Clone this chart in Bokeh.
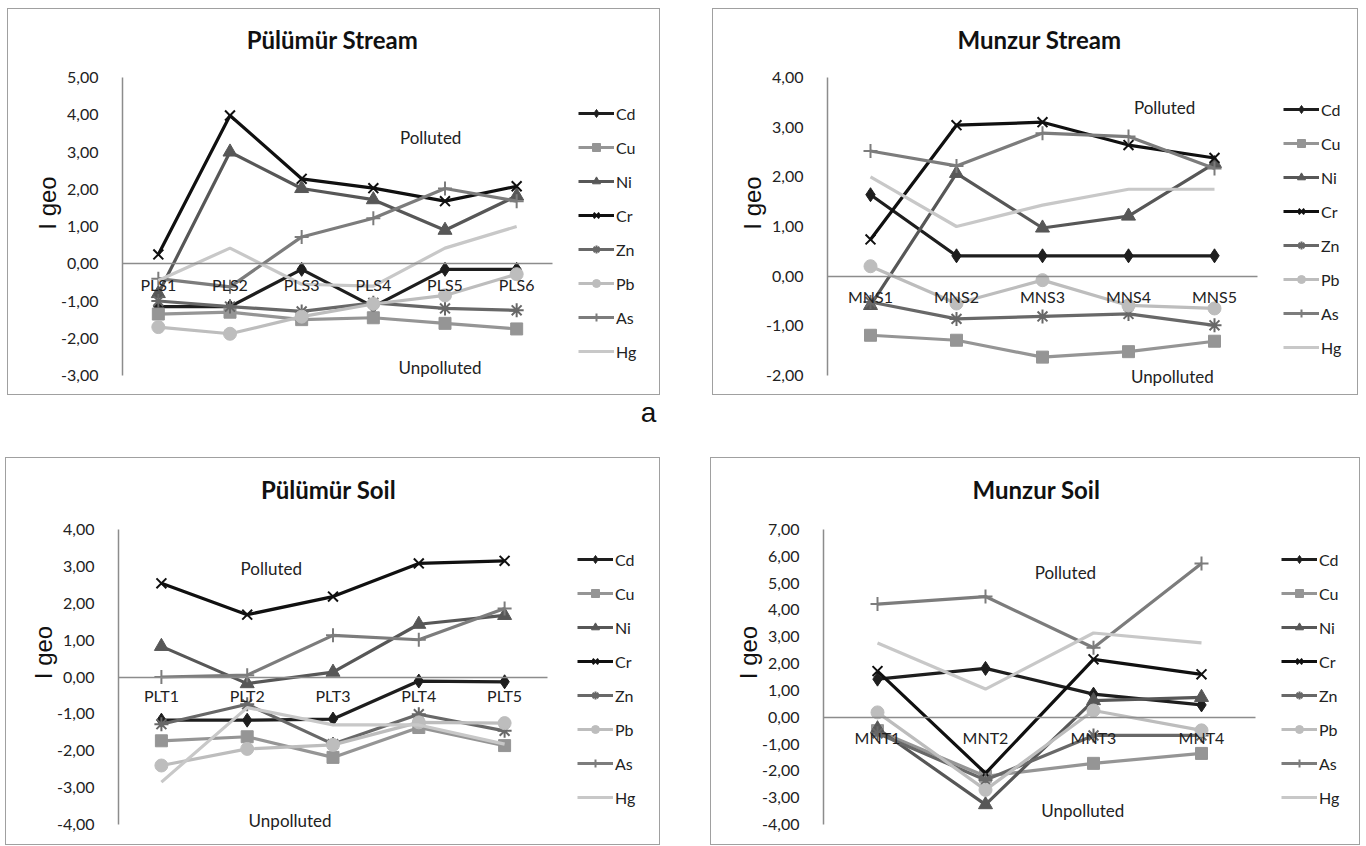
from bokeh.plotting import figure
from bokeh.models import (Range1d, FixedTicker, Legend, LegendItem, Label, Spacer)
from bokeh.layouts import column, row
from bokeh.embed import file_html
from bokeh.resources import INLINE

# ---------------- data ----------------
metals = ["Cd", "Cu", "Ni", "Cr", "Zn", "Pb", "As", "Hg"]

pls_sites = ["PLS1", "PLS2", "PLS3", "PLS4", "PLS5", "PLS6"]
pls_cd = [-1.15, -1.15, -0.15, -1.15, -0.15, -0.15]
pls_cu = [-1.35, -1.30, -1.50, -1.45, -1.60, -1.75]
pls_ni = [-0.80, 3.00, 2.02, 1.72, 0.90, 1.82]
pls_cr = [0.25, 3.98, 2.28, 2.03, 1.68, 2.08]
pls_zn = [-1.00, -1.15, -1.28, -1.05, -1.20, -1.25]
pls_pb = [-1.70, -1.88, -1.42, -1.08, -0.85, -0.28]
pls_as = [-0.40, -0.62, 0.72, 1.22, 2.02, 1.68]
pls_hg = [-0.45, 0.42, -0.55, -0.60, 0.42, 1.00]

mns_sites = ["MNS1", "MNS2", "MNS3", "MNS4", "MNS5"]
mns_cd = [1.64, 0.41, 0.41, 0.41, 0.41]
mns_cu = [-1.19, -1.29, -1.63, -1.52, -1.31]
mns_ni = [-0.59, 2.07, 0.97, 1.21, 2.27]
mns_cr = [0.74, 3.04, 3.10, 2.64, 2.38]
mns_zn = [-0.52, -0.86, -0.81, -0.76, -0.99]
mns_pb = [0.20, -0.55, -0.08, -0.59, -0.65]
mns_as = [2.52, 2.22, 2.88, 2.81, 2.17]
mns_hg = [2.00, 1.00, 1.43, 1.75, 1.75]

plt_sites = ["PLT1", "PLT2", "PLT3", "PLT4", "PLT5"]
plt_cd = [-1.17, -1.17, -1.14, -0.11, -0.13]
plt_cu = [-1.73, -1.62, -2.18, -1.37, -1.86]
plt_ni = [0.83, -0.18, 0.13, 1.43, 1.67]
plt_cr = [2.54, 1.69, 2.18, 3.08, 3.15]
plt_zn = [-1.28, -0.74, -1.82, -1.01, -1.46]
plt_pb = [-2.40, -1.95, -1.84, -1.23, -1.25]
plt_as = [0.00, 0.05, 1.13, 1.01, 1.86]
plt_hg = [-2.85, -0.83, -1.30, -1.30, -1.82]

mnt_sites = ["MNT1", "MNT2", "MNT3", "MNT4"]
mnt_cd = [1.42, 1.82, 0.86, 0.46]
mnt_cu = [-0.50, -2.20, -1.72, -1.35]
mnt_ni = [-0.43, -3.26, 0.62, 0.74]
mnt_cr = [1.72, -2.09, 2.16, 1.60]
mnt_zn = [-0.60, -2.34, -0.68, -0.68]
mnt_pb = [0.18, -2.71, 0.25, -0.49]
mnt_as = [4.22, 4.50, 2.59, 5.73]
mnt_hg = [2.77, 1.05, 3.14, 2.77]

ticks_pls = [-3, -2, -1, 0, 1, 2, 3, 4, 5]
ticks_mns = [-2, -1, 0, 1, 2, 3, 4]
ticks_plt = [-4, -3, -2, -1, 0, 1, 2, 3, 4]
ticks_mnt = [-4, -3, -2, -1, 0, 1, 2, 3, 4, 5, 6, 7]

# ---------------- styles ----------------
colors = {"Cd": "#1e1e1e", "Cu": "#959595", "Ni": "#575757", "Cr": "#101010",
          "Zn": "#686868", "Pb": "#bdbdbd", "As": "#7c7c7c", "Hg": "#c8c8c8"}
markers = {"Cd": "diamond", "Cu": "square", "Ni": "triangle", "Cr": "x",
           "Zn": "asterisk", "Pb": "circle", "As": "cross", "Hg": None}
msize = {"Cd": 14, "Cu": 12, "Ni": 14, "Cr": 14, "Zn": 14, "Pb": 13, "As": 14}
FONT = "Lato"
LEG_ITEM = 20
LEG_SP = 14
EDGE = 2


def fmt(t):
    return ("%.2f" % t).replace(".", ",")


def panel(title, sites, series, ticks, W, H, fl, fr, ft, tb,
          title_cx, title_cy, leg_off, leg_cd, pol, unpol, xstand=5):
    n = len(sites)
    xs = list(range(1, n + 1))
    sp = (fr - fl) / n                       # px per category
    span = ticks[-1] - ticks[0]
    pxu = (tb - ft) / span                   # px per y unit
    frame_r = W - EDGE
    frame_b = H - EDGE
    x_end = 0.5 + (frame_r - fl) / sp
    y_end = ticks[-1] + (ft - EDGE) / pxu
    y_start = ticks[0] - (frame_b - tb) / pxu

    p = figure(x_range=Range1d(0.5, x_end), y_range=Range1d(y_start, y_end),
               width=W, height=H, output_backend="svg", toolbar_location=None,
               min_border_left=fl, min_border_right=EDGE,
               min_border_top=EDGE, min_border_bottom=EDGE)
    p.styles = {"border": "1.5px solid #a0a0a0", "box-sizing": "border-box"}
    p.grid.visible = False
    p.outline_line_color = None
    p.background_fill_color = "white"
    p.border_fill_color = "white"

    # x axis crossing at 0
    p.xaxis.fixed_location = 0
    p.xaxis.bounds = (0.5, n + 0.5)
    p.xaxis.ticker = FixedTicker(ticks=xs)
    p.xaxis.major_label_overrides = dict(zip(xs, sites))
    p.xaxis.axis_line_color = "#8c8c8c"
    p.xaxis.axis_line_width = 1.5
    p.xaxis.major_tick_line_color = None
    p.xaxis.minor_tick_line_color = None
    p.xaxis.major_label_standoff = xstand
    p.xaxis.major_label_text_font = FONT
    p.xaxis.major_label_text_font_size = "16px"
    p.xaxis.major_label_text_color = "#222222"

    p.yaxis.ticker = FixedTicker(ticks=ticks)
    p.yaxis.bounds = (ticks[0], ticks[-1])
    p.yaxis.major_label_overrides = {t: fmt(t) for t in ticks}
    p.yaxis.axis_line_color = "#8c8c8c"
    p.yaxis.axis_line_width = 1.5
    p.yaxis.major_tick_line_color = None
    p.yaxis.minor_tick_line_color = None
    p.yaxis.major_label_standoff = 18
    p.yaxis.major_label_text_font = FONT
    p.yaxis.major_label_text_font_size = "16px"
    p.yaxis.major_label_text_color = "#222222"
    p.yaxis.axis_label = "I geo"
    p.yaxis.axis_label_text_font = "Liberation Sans"
    p.yaxis.axis_label_text_font_style = "normal"
    p.yaxis.axis_label_text_font_size = "24px"
    p.yaxis.axis_label_text_color = "#111111"
    p.yaxis.axis_label_standoff = -3

    items = []
    for m in metals:
        vals = series[m]
        r1 = p.line(xs, vals, line_color=colors[m], line_width=3.2)
        rs = [r1]
        if markers[m] is not None:
            r2 = p.scatter(xs, vals, marker=markers[m], size=msize[m],
                           fill_color=colors[m], line_color=colors[m],
                           line_width=2 if markers[m] in ("x", "asterisk", "cross") else 1)
            rs.append(r2)
        items.append(LegendItem(label=m, renderers=rs))

    leg_h = len(metals) * LEG_ITEM + (len(metals) - 1) * LEG_SP
    leg_bottom = leg_cd - LEG_ITEM / 2 + leg_h
    vx = int(round(fr + leg_off - fl))
    vy = int(round(frame_b - leg_bottom))
    leg = Legend(items=items, location=(vx, vy), orientation="vertical",
                 border_line_color=None, background_fill_alpha=0, padding=0,
                 margin=0, spacing=LEG_SP, glyph_width=36, glyph_height=LEG_ITEM,
                 label_height=LEG_ITEM, label_standoff=2,
                 label_text_font=FONT, label_text_font_size="16px",
                 label_text_color="#222222")
    p.add_layout(leg, "center")

    # title (as label placed in the frame area above the axis)
    tx = 0.5 + (title_cx - fl) / sp
    ty = ticks[-1] + (ft - title_cy) / pxu
    p.add_layout(Label(x=tx, y=ty, text=title, text_align="center",
                       text_baseline="middle", text_font=FONT,
                       text_font_style="bold", text_font_size="24px",
                       text_color="#111111"))

    for txt, (lx, ly) in (("Polluted", pol), ("Unpolluted", unpol)):
        p.add_layout(Label(x=lx + 0.5, y=ly, text=txt, text_align="center",
                           text_baseline="middle", text_font=FONT,
                           text_font_size="17px", text_color="#222222"))
    return p


s1 = dict(zip(metals, [pls_cd, pls_cu, pls_ni, pls_cr, pls_zn, pls_pb, pls_as, pls_hg]))
s2 = dict(zip(metals, [mns_cd, mns_cu, mns_ni, mns_cr, mns_zn, mns_pb, mns_as, mns_hg]))
s3 = dict(zip(metals, [plt_cd, plt_cu, plt_ni, plt_cr, plt_zn, plt_pb, plt_as, plt_hg]))
s4 = dict(zip(metals, [mnt_cd, mnt_cu, mnt_ni, mnt_cr, mnt_zn, mnt_pb, mnt_as, mnt_hg]))

# label positions given in category-synthetic units (0 = left edge of axis)
p1 = panel("Pülümür Stream", pls_sites, s1, ticks_pls, 653, 387,
           114, 544, 68, 366, 324, 30, 26, 104, (4.3, 3.4), (4.43, -2.78))
p2 = panel("Munzur Stream", mns_sites, s2, ticks_mns, 646, 387,
           114, 544, 68, 366, 326, 30, 26, 100, (3.92, 3.39), (4.01, -2.03))
p3 = panel("Pülümür Soil", plt_sites, s3, ticks_plt, 655, 388,
           112, 541, 71, 366, 322, 31, 30, 101, (1.78, 2.94), (2.0, -3.88), xstand=3)
p4 = panel("Munzur Soil", mnt_sites, s4, ticks_mnt, 650, 388,
           112, 544, 71, 366, 325, 31, 26, 101, (2.24, 5.38), (2.4, -3.47))

# the "a" caption between the rows
pa = figure(width=1360, height=62, x_range=Range1d(0, 1360), y_range=Range1d(0, 62),
            output_backend="svg", toolbar_location=None, min_border=0)
pa.axis.visible = False
pa.grid.visible = False
pa.outline_line_color = None
pa.add_layout(Label(x=648, y=45, text="a", text_align="center", text_baseline="middle",
                    text_font="Liberation Sans", text_font_size="28px", text_color="#111111"))

layout = column(
    Spacer(width=10, height=8),
    row(Spacer(width=7, height=10), p1, Spacer(width=52, height=10), p2),
    pa,
    row(Spacer(width=5, height=10), p3, Spacer(width=50, height=10), p4),
)

open("out.html", "w").write(file_html(layout, INLINE))
